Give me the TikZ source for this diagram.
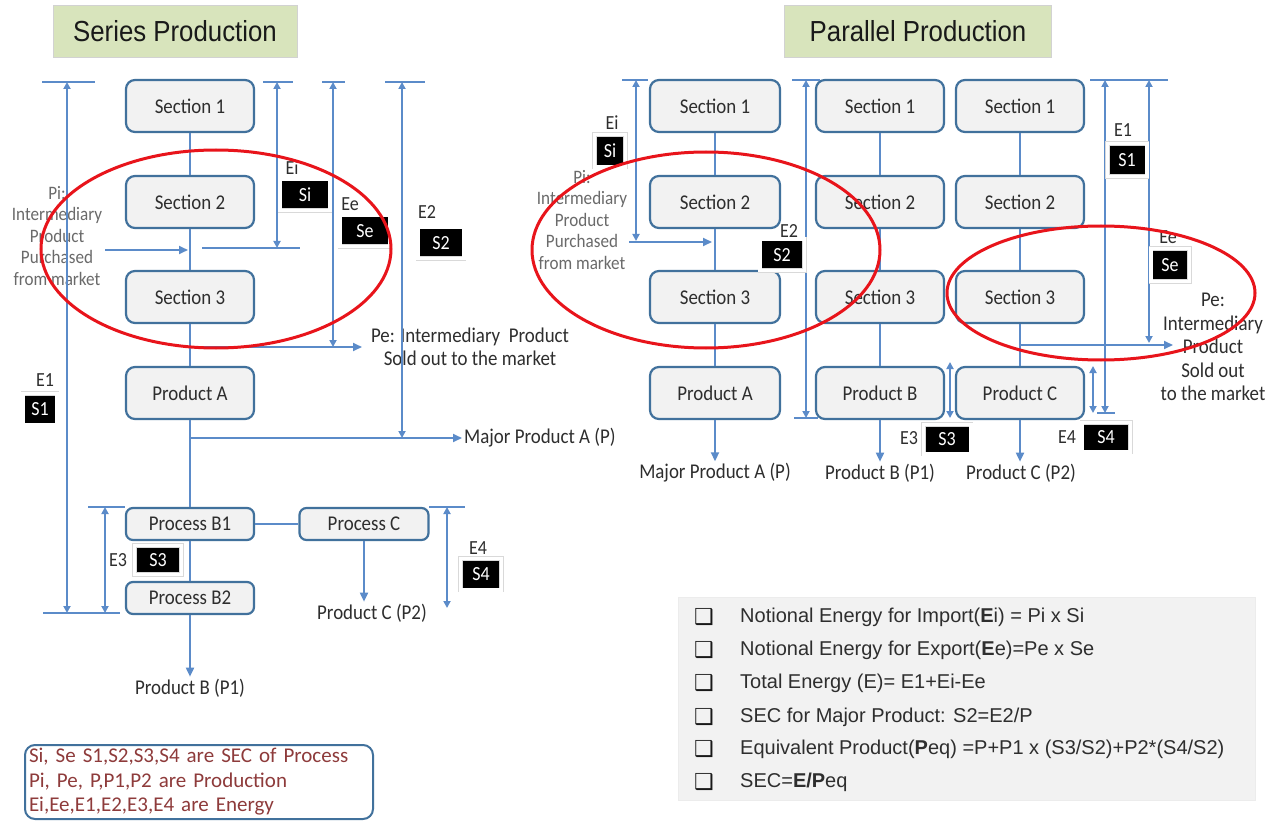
\documentclass[tikz,border=0pt]{standalone}
\usepackage{fontspec}
\setmainfont{Carlito}[FakeStretch=0.9]
\newfontfamily\notefont{Carlito}
\newfontfamily\formulafont{Liberation Sans}
\newfontfamily\headfont{Liberation Sans}[FakeStretch=0.89]
\newfontfamily\symbolfont{DejaVu Sans}
\usetikzlibrary{arrows.meta}

\definecolor{boxline}{HTML}{41719C}
\definecolor{boxfill}{HTML}{F2F2F2}
\definecolor{flow}{HTML}{5B8BC9}
\definecolor{ringred}{HTML}{E8141B}
\definecolor{headfill}{HTML}{D8E4BC}
\definecolor{notetext}{HTML}{8E3B3B}
\definecolor{sidetext}{HTML}{6A6A6A}
\definecolor{labeltext}{HTML}{2E2E2E}
\definecolor{panelfill}{HTML}{F2F2F2}

\tikzset{
  sec/.style={draw=boxline, line width=2.2pt, fill=boxfill, rounded corners=9pt,
    minimum width=128pt, minimum height=52pt, inner sep=0pt,
    font=\fontsize{21}{22}\selectfont, text=labeltext},
  proc/.style={sec, minimum height=32pt, rounded corners=7pt},
  link/.style={draw=flow, line width=1.8pt},
  feed/.style={link, -{Triangle[length=9pt,width=8pt]}},
  dimline/.style={link, {Triangle[length=7pt,width=7pt]}-{Triangle[length=7pt,width=7pt]}},
  dimbar/.style={link},
  sectag/.style={fill=black, text=white, draw=gray!30, line width=0.5pt,
    double=white, double distance=3.5pt, inner sep=0pt,
    minimum height=31.5pt, font=\fontsize{20}{20}\selectfont},
  elab/.style={font=\fontsize{20}{20}\selectfont, text=labeltext, inner sep=1pt},
  outlbl/.style={font=\fontsize{21}{22}\selectfont, text=labeltext, inner sep=2pt},
  sidenote/.style={font=\fontsize{19}{21.5}\selectfont, text=sidetext, align=center, inner sep=0pt},
  redring/.style={draw=ringred, line width=3pt},
  heading/.style={fill=headfill, draw=gray!35, line width=0.8pt, minimum height=52pt,
    font=\headfont\fontsize{29}{30}\selectfont, text=black!90},
  formula/.style={anchor=west, font=\formulafont\fontsize{20}{20}\selectfont, text=labeltext, inner sep=0pt},
  checkbox/.style={font=\symbolfont\fontsize{22}{22}\selectfont, text=black!90, inner sep=0pt},
}

\begin{document}
\begin{tikzpicture}[x=1pt,y=-1pt]
\useasboundingbox (0,0) rectangle (1275,821);
\fill[white] (0,0) rectangle (1275,821);

% ---------------- headings ----------------
\node[heading, minimum width=244pt] (serieshead) at (175,31) {Series Production};
\node[heading, minimum width=267pt] (parallelhead) at (918,31) {Parallel Production};

% ================= series production =================
\node[sec] (a1) at (190,106) {Section 1};
\node[sec] (a2) at (190,202) {Section 2};
\node[sec] (a3) at (190,297) {Section 3};
\node[sec] (aA) at (190,393) {Product A};
\node[proc] (aB1) at (190,524) {Process B1};
\node[proc] (aB2) at (190,598) {Process B2};
\node[proc, minimum width=129pt] (aC) at (364,524) {Process C};

\node[outlbl] (aPB) at (190,688) {Product B (P1)};
\node[outlbl] (aPC) at (372,613) {Product C (P2)};
\node[outlbl, anchor=west] (aPA) at (462,438) {Major Product A (P)};
\node[sidenote] (aPi) at (57,236) {Pi:\\Intermediary\\Product\\Purchased\\from market};
\node[outlbl, align=center, font=\fontsize{21}{23}\selectfont] (aPe) at (470,347)
  {Pe: Intermediary\ \ Product\\Sold out to the market};

\draw[link] (a1) -- (a2);
\draw[link] (a2) -- (a3);
\draw[link] (a3) -- (aA);
\draw[link] (aA) -- (aB1);
\draw[link] (aB1) -- (aB2);
\draw[link] (aB1) -- (aC);
\draw[feed] (aB2) -- (aPB);
\draw[feed] (aC) -- (aC |- aPC.north);

\coordinate (aJoin) at (190,438);
\draw[feed] (aJoin) -- (aPA.west);
\coordinate (aPiIn) at (105,250);
\coordinate (aPiTo) at (188,250);
\draw[feed] (aPiIn) -- (aPiTo);
\coordinate (aPeFrom) at (190,347);
\coordinate (aPeTo) at (362,347);
\draw[feed] (aPeFrom) -- (aPeTo);

% energy spans
\coordinate (aE1t) at (67,82);   \coordinate (aE1b) at (67,613);
\coordinate (aE3t) at (105,507); \coordinate (aE3b) at (105,613);
\coordinate (aE4t) at (447,507); \coordinate (aE4b) at (447,608);
\coordinate (aE2t) at (402,82);  \coordinate (aE2b) at (402,438);
\coordinate (aEet) at (333,82);  \coordinate (aEeb) at (333,347);
\coordinate (aEit) at (277,82);  \coordinate (aEib) at (277,248);
\draw[dimbar] ([xshift=-25pt]aE1t) -- ([xshift=28pt]aE1t);
\draw[dimbar] ([xshift=-24pt]aE1b) -- ([xshift=53pt]aE1b);
\draw[dimbar] ([xshift=-17pt]aE3t) -- ([xshift=20pt]aE3t);
\draw[dimbar] ([xshift=-18pt]aE4t) -- ([xshift=18pt]aE4t);
\draw[dimbar] ([xshift=-17pt]aE2t) -- ([xshift=23pt]aE2t);
\draw[dimbar] ([xshift=-11pt]aEet) -- ([xshift=12pt]aEet);
\draw[dimbar] ([xshift=-14pt]aEit) -- ([xshift=16pt]aEit);
\draw[dimbar] ([xshift=-75pt]aEib) -- ([xshift=23pt]aEib);
\draw[dimline] (aE1t) -- (aE1b);
\draw[dimline] (aE3t) -- (aE3b);
\draw[dimline] (aE4t) -- (aE4b);
\draw[dimline] (aE2t) -- (aE2b);
\draw[dimline] (aEet) -- (aEeb);
\draw[dimline] (aEit) -- (aEib);

\node[elab] (aEi) at (292,168) {Ei};
\node[sectag, minimum width=50pt] (aSi) at (305,195) {Si};
\node[elab] (aEe) at (350,204) {Ee};
\node[sectag, minimum width=50pt] (aSe) at (365,231) {Se};
\node[elab] (aE2) at (427,212) {E2};
\node[sectag, minimum width=46pt] (aS2) at (441,243) {S2};
\node[elab] (aE1) at (45,380) {E1};
\node[sectag, minimum width=34pt] (aS1) at (40,409) {S1};
\node[elab] (aE3) at (118,560) {E3};
\node[sectag, minimum width=47pt, minimum height=29pt] (aS3) at (158,560) {S3};
\node[elab] (aE4) at (478,548) {E4};
\node[sectag, minimum width=41pt] (aS4) at (481,574) {S4};

% ================= parallel production =================
\node[sec, minimum width=130pt] (b1) at (715,106) {Section 1};
\node[sec, minimum width=130pt] (b2) at (715,202) {Section 2};
\node[sec, minimum width=130pt] (b3) at (715,297) {Section 3};
\node[sec, minimum width=130pt] (bA) at (715,393) {Product A};
\node[sec] (c1) at (880,106) {Section 1};
\node[sec] (c2) at (880,202) {Section 2};
\node[sec] (c3) at (880,297) {Section 3};
\node[sec] (cB) at (880,393) {Product B};
\node[sec] (d1) at (1020,106) {Section 1};
\node[sec] (d2) at (1020,202) {Section 2};
\node[sec] (d3) at (1020,297) {Section 3};
\node[sec] (dC) at (1020,393) {Product C};

\node[outlbl] (bPA) at (715,473) {Major Product A (P)};
\node[outlbl] (cPB) at (880,473) {Product B (P1)};
\node[outlbl] (dPC) at (1021,473) {Product C (P2)};
\node[sidenote] (bPi) at (582,220) {Pi:\\Intermediary\\Product\\Purchased\\from market};
\node[sidenote, text=labeltext, font=\fontsize{21}{23.5}\selectfont] (dPe) at (1213,347)
  {Pe:\\Intermediary\\Product\\Sold out\\to the market};

\draw[link] (b1) -- (b2);
\draw[link] (b2) -- (b3);
\draw[link] (b3) -- (bA);
\draw[link] (c1) -- (c2);
\draw[link] (c2) -- (c3);
\draw[link] (c3) -- (cB);
\draw[link] (d1) -- (d2);
\draw[link] (d2) -- (d3);
\draw[link] (d3) -- (dC);
\draw[feed] (bA) -- (bPA);
\draw[feed] (cB) -- (cPB);
\draw[feed] (dC) -- (dC |- dPC.north);

\coordinate (bPiIn) at (629,242);
\coordinate (bPiTo) at (712,242);
\draw[feed] (bPiIn) -- (bPiTo);
\coordinate (dPeFrom) at (1020,345);
\coordinate (dPeTo) at (1173,345);
\draw[feed] (dPeFrom) -- (dPeTo);

% energy spans
\coordinate (bEit) at (636,80);   \coordinate (bEib) at (636,241);
\coordinate (cE2t) at (806,80);   \coordinate (cE2b) at (806,418);
\coordinate (dE1t) at (1105,80);  \coordinate (dE1b) at (1105,413);
\coordinate (dEet) at (1149,80);  \coordinate (dEeb) at (1149,343);
\coordinate (cE3t) at (950,362);  \coordinate (cE3b) at (950,418);
\coordinate (dE4t) at (1093,366); \coordinate (dE4b) at (1093,413);
\draw[dimbar] ([xshift=-14pt]bEit) -- ([xshift=12pt]bEit);
\draw[dimbar] ([xshift=-14pt]cE2t) -- ([xshift=14pt]cE2t);
\draw[dimbar] ([xshift=-12pt]cE2b) -- ([xshift=12pt]cE2b);
\draw[dimbar] ([xshift=-15pt]dE1t) -- ([xshift=63pt]dE1t);
\draw[dimbar] ([xshift=-8pt]dE1b) -- ([xshift=10pt]dE1b);
\draw[dimline] (bEit) -- (bEib);
\draw[dimline] (cE2t) -- (cE2b);
\draw[dimline] (dE1t) -- (dE1b);
\draw[dimline] (dEet) -- (dEeb);
\draw[dimline] (cE3t) -- (cE3b);
\draw[dimline] (dE4t) -- (dE4b);

\node[elab] (bEi) at (612,123) {Ei};
\node[sectag, minimum width=31pt, minimum height=32.5pt] (bSi) at (610,151) {Si};
\node[elab] (cE2) at (789,231) {E2};
\node[sectag, minimum width=44.5pt] (cS2) at (782,255) {S2};
\node[elab] (dE1) at (1123,130) {E1};
\node[sectag, minimum width=39.5pt, minimum height=33pt] (dS1) at (1127,160) {S1};
\node[elab] (dEe) at (1168,237) {Ee};
\node[sectag, minimum width=38.5pt, minimum height=33pt] (dSe) at (1170,265) {Se};
\node[elab] (cE3) at (909,438) {E3};
\node[sectag, minimum width=47.5pt, minimum height=29.5pt] (cS3) at (947,439) {S3};
\node[elab] (dE4) at (1067,437) {E4};
\node[sectag, minimum width=48.5pt, minimum height=29.5pt] (dS4) at (1106,437) {S4};

% ---------------- formula panel ----------------
\node[fill=panelfill, draw=gray!15, minimum width=577pt, minimum height=203pt, inner sep=0pt]
  (panel) at (966.5,698.5) {};
\node[checkbox] (k1) at (704,617) {❑};
\node[checkbox] (k2) at (704,650) {❑};
\node[checkbox] (k3) at (704,683) {❑};
\node[checkbox] (k4) at (704,717) {❑};
\node[checkbox] (k5) at (704,749) {❑};
\node[checkbox] (k6) at (704,782) {❑};
\node[formula] (f1) at (740,617) {Notional Energy for Import(\textbf{E}i) = Pi x Si};
\node[formula] (f2) at (740,650) {Notional Energy for Export(\textbf{E}e)=Pe x Se};
\node[formula] (f3) at (740,683) {Total Energy (E)= E1+Ei-Ee};
\node[formula] (f4) at (740,717) {SEC for Major Product: S2=E2/P};
\node[formula] (f5) at (740,749) {Equivalent Product(\textbf{P}eq) =P+P1 x (S3/S2)+P2*(S4/S2)};
\node[formula] (f6) at (740,782) {SEC=\textbf{E/P}eq};

% ---------------- symbol note ----------------
\node[draw=boxline, line width=2pt, rounded corners=10pt, minimum width=348pt, minimum height=74pt,
  text width=340pt, align=left, inner sep=3pt, text=notetext,
  font=\notefont\fontsize{21}{24.5}\selectfont] (note) at (199,782)
  {Si, Se S1,S2,S3,S4 are SEC of Process\\Pi, Pe, P,P1,P2 are Production\\Ei,Ee,E1,E2,E3,E4 are Energy};

% ---------------- highlighted regions ----------------
\draw[redring] (216,249) ellipse [x radius=175pt, y radius=99pt];
\draw[redring] (706,250) ellipse [x radius=174pt, y radius=98pt];
\draw[redring] (1101,293) ellipse [x radius=154pt, y radius=67pt];

\end{tikzpicture}
\end{document}
